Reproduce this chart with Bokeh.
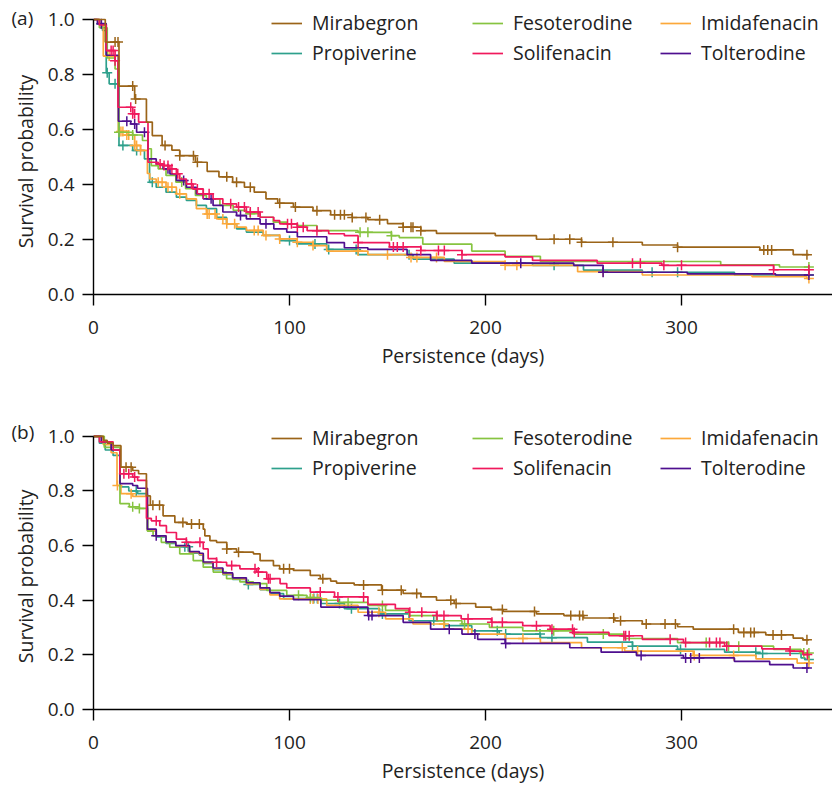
import math
import numpy as np
from bokeh.plotting import figure
from bokeh.models import Range1d, FixedTicker, Legend, LegendItem, Label, NumeralTickFormatter
from bokeh.layouts import column, row
from bokeh.embed import file_html
from bokeh.resources import INLINE

FONT = "Open Sans"
TEXT = "#222222"

DRUGS = ["Mirabegron", "Fesoterodine", "Imidafenacin", "Propiverine", "Solifenacin", "Tolterodine"]
COLORS = {
    "Mirabegron": "#9B6418",
    "Fesoterodine": "#86C440",
    "Imidafenacin": "#FCA83A",
    "Propiverine": "#2EA08C",
    "Solifenacin": "#F0195C",
    "Tolterodine": "#4E0F8F",
}
END_DAY = 365
X_TICKS = [0, 100, 200, 300]
Y_TICKS = [0.0, 0.2, 0.4, 0.6, 0.8, 1.0]
X_TITLE = "Persistence (days)"
Y_TITLE = "Survival probability"

# ---------------- Panel (a): step times (days) and survival after each step
MIRA_A_T = [0, 6, 13, 21, 27, 30, 35, 40, 44, 52, 58, 64, 71, 77, 82, 88, 94, 102, 112, 121,
            132, 140, 150, 158, 167, 175, 205, 226, 249, 280, 298, 340, 357]
MIRA_A_S = [1.0, 0.918, 0.758, 0.711, 0.627, 0.578, 0.542, 0.525, 0.505, 0.481, 0.448, 0.428, 0.408, 0.39, 0.372, 0.348, 0.332, 0.318, 0.305, 0.29,
            0.28, 0.272, 0.258, 0.245, 0.232, 0.222, 0.214, 0.201, 0.19, 0.18, 0.172, 0.162, 0.145]
MIRA_A_C = [11, 12.5, 20, 21.5, 36.5, 44, 51, 53, 68, 73, 80, 95, 103, 114, 123, 126, 128, 132, 139, 146,
            158, 162, 163, 167, 235, 243, 249, 265, 298, 342, 344, 346, 364]

FESO_A_T = [0, 3, 7, 11, 12.8, 20, 25, 27.8, 29.5, 33, 37, 42, 47, 52, 57.6, 64.5, 71.3, 78, 85, 91.7,
            98.6, 104, 114, 135, 152, 156, 168, 193, 210, 228, 320, 350]
FESO_A_S = [1.0, 0.97, 0.86, 0.82, 0.59, 0.58, 0.56, 0.53, 0.469, 0.457, 0.433, 0.409, 0.385, 0.36, 0.348, 0.324, 0.306, 0.294, 0.281, 0.263,
            0.257, 0.251, 0.232, 0.226, 0.214, 0.207, 0.183, 0.158, 0.139, 0.12, 0.108, 0.1]
FESO_A_C = [13, 20, 45, 80, 136, 140, 152, 365]

IMID_A_T = [0, 3, 5, 12.7, 17, 21, 24, 27.5, 28.7, 32, 37, 42.3, 47.4, 52.5, 57.6, 62.8, 67.9, 73, 78, 86.6,
            95, 103.7, 112, 119, 140, 161, 179, 210, 247, 280, 336, 364]
IMID_A_S = [1.0, 0.98, 0.867, 0.593, 0.58, 0.542, 0.524, 0.44, 0.42, 0.408, 0.39, 0.366, 0.348, 0.312, 0.293, 0.275, 0.257, 0.245, 0.233, 0.215,
            0.202, 0.19, 0.178, 0.158, 0.145, 0.135, 0.12, 0.106, 0.083, 0.071, 0.065, 0.058]
IMID_A_C = [8, 14, 15, 17, 18, 21, 22, 24, 33, 35, 38, 40, 44, 58, 59, 62, 66, 68, 72, 82,
            84, 88, 95, 104, 112, 135, 150, 162, 165, 175, 210, 216, 260, 365]

PROP_A_T = [0, 3, 4.6, 6.5, 8, 13, 20, 26, 28.6, 32, 37, 42.3, 47.4, 52.5, 57.6, 62.8, 67.9, 73, 78, 86.6,
            95, 103.7, 119, 135, 163, 184, 224, 250, 280, 327]
PROP_A_S = [1.0, 0.984, 0.96, 0.806, 0.766, 0.542, 0.524, 0.493, 0.408, 0.39, 0.372, 0.354, 0.342, 0.324, 0.312, 0.281, 0.257, 0.239, 0.227, 0.215,
            0.196, 0.184, 0.164, 0.145, 0.129, 0.114, 0.106, 0.089, 0.081, 0.071]
PROP_A_C = [4, 7, 11, 15, 22, 30, 100, 113, 120, 134, 161, 235, 285, 298, 365]

SOLI_A_T = [0, 3, 6.5, 11, 12.5, 20, 23, 27.8, 33, 35.5, 39, 42.3, 44, 47.4, 50.8, 56, 61, 66, 73, 78,
            85, 92, 95, 104, 109, 120, 128, 135, 151, 167, 188, 210, 224, 257, 290, 347]
SOLI_A_S = [1.0, 0.98, 0.887, 0.85, 0.681, 0.657, 0.627, 0.481, 0.475, 0.469, 0.457, 0.439, 0.42, 0.402, 0.384, 0.366, 0.348, 0.33, 0.318, 0.3,
            0.281, 0.269, 0.257, 0.245, 0.232, 0.221, 0.214, 0.189, 0.173, 0.16, 0.145, 0.137, 0.124, 0.114, 0.106, 0.09]
SOLI_A_C = [9, 10, 11, 19, 20, 21, 34, 36, 38, 40, 43, 50, 53, 56, 59, 70, 74, 77, 80, 84,
            99, 101, 104, 107, 114, 135, 153, 155, 158, 167, 176, 179, 188, 275, 279, 291, 300, 347, 365]

TOLT_A_T = [0, 2, 6.5, 12.7, 19, 22, 27.8, 32, 35.5, 39, 42.3, 47.4, 52.5, 56, 61, 66, 73, 78, 85, 92,
            98.6, 104, 119, 128, 140, 160, 172, 193, 245, 260, 303, 348]
TOLT_A_S = [1.0, 0.985, 0.87, 0.63, 0.62, 0.59, 0.493, 0.475, 0.457, 0.439, 0.415, 0.39, 0.366, 0.348, 0.324, 0.3, 0.287, 0.275, 0.257, 0.239,
            0.227, 0.21, 0.189, 0.17, 0.164, 0.145, 0.124, 0.114, 0.106, 0.081, 0.075, 0.071]
TOLT_A_C = [4, 17, 21, 26, 38, 46, 60, 75, 88, 218, 260, 365]

# ---------------- Panel (b)
MIRA_B_T = [0, 5, 7, 10, 14, 20, 23, 27, 29, 35.5, 41.5, 47.4, 56, 56.8, 59.4, 62.8, 68, 73, 81.6, 85,
            91.8, 95, 102, 110.6, 115.7, 121, 124, 133, 147, 158, 167, 175, 184, 195, 203, 209, 226, 240, 250, 266,
            280, 298, 306, 329, 343, 357, 362]
MIRA_B_S = [1.0, 0.985, 0.975, 0.966, 0.887, 0.875, 0.863, 0.782, 0.748, 0.709, 0.685, 0.679, 0.66, 0.636, 0.618, 0.612, 0.588, 0.576, 0.57, 0.545,
            0.527, 0.515, 0.509, 0.491, 0.479, 0.47, 0.463, 0.456, 0.437, 0.425, 0.412, 0.4, 0.388, 0.375, 0.366, 0.359, 0.35, 0.344, 0.335, 0.325,
            0.313, 0.303, 0.294, 0.282, 0.273, 0.261, 0.255]
MIRA_B_C = [16.6, 19.2, 30.3, 33.7, 45.6, 50, 54, 68, 74, 97, 100, 117, 137.8, 147.4, 157, 164.9, 182.3, 185, 208.6, 225,
            243.5, 248, 249.7, 265.4, 268.9, 282, 291.6, 296.9, 326.6, 331.8, 335.3, 337.1, 346.7, 351, 364]

FESO_B_T = [0, 5.5, 13.5, 18.3, 23.4, 27.6, 30.4, 34.6, 38.9, 44, 50.9, 56, 61.1, 67.9, 74.7, 81.6, 88.4, 98.6, 108.9, 116,
            125, 140, 149, 161, 175, 188, 202, 219, 245, 271, 298, 324, 347, 361]
FESO_B_S = [1.0, 0.96, 0.754, 0.742, 0.736, 0.653, 0.636, 0.612, 0.594, 0.57, 0.545, 0.521, 0.503, 0.479, 0.467, 0.461, 0.436, 0.418, 0.41, 0.4,
            0.392, 0.381, 0.363, 0.344, 0.325, 0.313, 0.301, 0.288, 0.276, 0.26, 0.245, 0.232, 0.22, 0.207]
FESO_B_C = [20, 23.4, 104.6, 110.7, 129.9, 147.4, 189.3, 234.8, 260.1, 312.6, 324, 329.2, 362.4, 365]

IMID_B_T = [0, 5, 9, 12, 14, 20, 27.5, 32, 37, 42, 49, 54, 56, 61, 66, 71, 78, 85, 90, 95,
            119, 135, 149, 163, 179, 193, 210, 228, 249, 271, 306, 338, 359]
IMID_B_S = [1.0, 0.97, 0.94, 0.82, 0.79, 0.78, 0.655, 0.636, 0.612, 0.598, 0.575, 0.568, 0.538, 0.515, 0.496, 0.478, 0.46, 0.44, 0.42, 0.405,
            0.381, 0.356, 0.332, 0.313, 0.294, 0.276, 0.26, 0.245, 0.226, 0.214, 0.198, 0.185, 0.17]
IMID_B_C = [12.2, 19.2, 110.6, 112, 114.5, 145.6, 178.8, 191.1, 219.1, 269.8, 277.6, 306.5, 326.6, 365]

PROP_B_T = [0, 3, 6, 10, 13.5, 18, 22.5, 27.5, 32, 37, 42, 49, 54, 56, 61, 66, 71, 78, 85, 90,
            97, 116, 128, 146, 161, 179, 193, 207, 228, 252, 275, 298, 322, 338, 361, 363]
PROP_B_S = [1.0, 0.975, 0.95, 0.93, 0.815, 0.80, 0.79, 0.655, 0.632, 0.608, 0.596, 0.572, 0.566, 0.535, 0.512, 0.494, 0.476, 0.458, 0.439, 0.424,
            0.406, 0.388, 0.369, 0.35, 0.325, 0.307, 0.288, 0.276, 0.263, 0.247, 0.232, 0.22, 0.21, 0.205, 0.189, 0.183]
PROP_B_C = [21.8, 46.6, 48.3, 79, 112.4, 114.2, 125.5, 131.6, 147.4, 173.6, 206, 210.3, 227.8, 233.9, 275, 299.5, 337.9, 341.4, 365]

SOLI_B_T = [0, 3, 10, 13.5, 20, 22.5, 27, 29.5, 33.8, 37.2, 42.3, 47.4, 56, 58.5, 62.8, 67.9, 74.7, 83.3, 88.4, 95.2,
            98.6, 110.6, 123, 140, 154, 161, 175, 187.6, 203, 219, 233, 245, 263, 280, 301, 322, 341, 355, 362]
SOLI_B_S = [1.0, 0.98, 0.95, 0.863, 0.851, 0.839, 0.70, 0.691, 0.673, 0.648, 0.624, 0.612, 0.588, 0.552, 0.539, 0.527, 0.515, 0.503, 0.479, 0.461,
            0.445, 0.43, 0.412, 0.385, 0.369, 0.356, 0.344, 0.332, 0.319, 0.307, 0.294, 0.282, 0.27, 0.257, 0.245, 0.232, 0.222, 0.214, 0.201]
SOLI_B_C = [15.5, 18, 21, 32, 47.4, 54.3, 62.8, 70.5, 82.4, 84.1, 89.2, 90.1, 115.7, 124.7, 137.8, 161.4, 167.5, 175.3, 178.8, 191.1,
            203.3, 208.6, 226, 233.9, 244.4, 245.3, 270.6, 271.5, 273.3, 294.2, 302.1, 314.3, 317.8, 319.6, 323.1, 355.4, 364.2]

TOLT_B_T = [0, 4, 9, 13.5, 20, 22.5, 27.5, 32, 37, 42, 49, 54, 56, 61, 66, 71, 78, 85, 90, 95,
            102, 116, 140, 158, 172, 188, 196, 210, 243, 259, 277, 301, 327, 345, 357]
TOLT_B_S = [1.0, 0.98, 0.95, 0.827, 0.82, 0.81, 0.66, 0.636, 0.614, 0.6, 0.578, 0.572, 0.54, 0.518, 0.5, 0.482, 0.464, 0.445, 0.428, 0.415,
            0.402, 0.375, 0.344, 0.319, 0.294, 0.276, 0.257, 0.242, 0.226, 0.21, 0.198, 0.189, 0.176, 0.164, 0.152]
TOLT_B_C = [32, 140.4, 142.1, 181.5, 194.6, 210.3, 279.4, 302.1, 304.7, 309.1, 364]

PANEL_A = {
    "Mirabegron": (MIRA_A_T, MIRA_A_S, MIRA_A_C),
    "Fesoterodine": (FESO_A_T, FESO_A_S, FESO_A_C),
    "Imidafenacin": (IMID_A_T, IMID_A_S, IMID_A_C),
    "Propiverine": (PROP_A_T, PROP_A_S, PROP_A_C),
    "Solifenacin": (SOLI_A_T, SOLI_A_S, SOLI_A_C),
    "Tolterodine": (TOLT_A_T, TOLT_A_S, TOLT_A_C),
}
PANEL_B = {
    "Mirabegron": (MIRA_B_T, MIRA_B_S, MIRA_B_C),
    "Fesoterodine": (FESO_B_T, FESO_B_S, FESO_B_C),
    "Imidafenacin": (IMID_B_T, IMID_B_S, IMID_B_C),
    "Propiverine": (PROP_B_T, PROP_B_S, PROP_B_C),
    "Solifenacin": (SOLI_B_T, SOLI_B_S, SOLI_B_C),
    "Tolterodine": (TOLT_B_T, TOLT_B_S, TOLT_B_C),
}

DRAW_ORDER = ["Propiverine", "Imidafenacin", "Fesoterodine", "Tolterodine", "Solifenacin", "Mirabegron"]
LEGEND_COLS = [["Mirabegron", "Propiverine"], ["Fesoterodine", "Solifenacin"], ["Imidafenacin", "Tolterodine"]]
LEGEND_X = [178, 379, 567]

# layout (pixels)
SIDE_W = 40            # strip holding the panel tag and the rotated y title
FIG_W = 792            # plot figure width (SIDE_W + FIG_W = 832)
BORDER_LEFT = 53
FRAME_W = FIG_W - BORDER_LEFT
PX_PER_DAY = 1.96
PX_PER_UNIT = 275.0
X_END = FRAME_W / PX_PER_DAY


def surv_at(ts, ss, t):
    i = int(np.searchsorted(np.asarray(ts, dtype=float), t, side="right")) - 1
    return ss[max(i, 0)]


def make_side(tag, height, top, bottom, frame_h, tag_y, title_y):
    # its frame is aligned with the plot's frame by the row layout; y is in pixels above the frame bottom
    s = figure(width=SIDE_W, height=height, output_backend="svg", toolbar_location=None,
               x_range=Range1d(0, SIDE_W), y_range=Range1d(0, frame_h),
               x_axis_location=None, y_axis_location=None,
               min_border_left=0, min_border_right=0, min_border_top=top, min_border_bottom=bottom,
               background_fill_color="white", border_fill_color="white")
    s.outline_line_color = None
    s.grid.visible = False
    s.add_layout(Label(x=11, y=tag_y, text=tag, text_font=FONT,
                       text_font_size="19px", text_color=TEXT,
                       text_align="left", text_baseline="middle"))
    s.add_layout(Label(x=25, y=title_y, text=Y_TITLE, angle=math.pi / 2,
                       text_font=FONT, text_font_size="19.5px", text_color=TEXT,
                       text_align="center", text_baseline="middle"))
    return s


def make_panel(data, height, top, bottom, frame_h, legend_y):
    p = figure(width=FIG_W, height=height, output_backend="svg", toolbar_location=None,
               x_range=Range1d(0, X_END), y_range=Range1d(0, frame_h / PX_PER_UNIT),
               min_border_left=BORDER_LEFT, min_border_right=0, min_border_top=top, min_border_bottom=bottom,
               background_fill_color="white", border_fill_color="white")
    p.outline_line_color = None
    p.grid.visible = False
    p.xaxis.ticker = FixedTicker(ticks=X_TICKS)
    p.yaxis.ticker = FixedTicker(ticks=Y_TICKS)
    p.yaxis.formatter = NumeralTickFormatter(format="0.0")
    p.yaxis.bounds = (0, 1)
    for ax in (p.xaxis, p.yaxis):
        ax.axis_line_color = "black"
        ax.axis_line_width = 1.4
        ax.major_tick_line_color = "black"
        ax.major_tick_line_width = 1.4
        ax.major_tick_out = 11
        ax.major_tick_in = 0
        ax.minor_tick_line_color = None
        ax.major_label_text_font = FONT
        ax.major_label_text_font_size = "19px"
        ax.major_label_text_color = TEXT
        ax.axis_label_text_font = FONT
        ax.axis_label_text_font_size = "19.5px"
        ax.axis_label_text_font_style = "normal"
        ax.axis_label_text_color = TEXT
    p.xaxis.axis_label = X_TITLE
    p.xaxis.major_label_standoff = 15
    p.xaxis.axis_label_standoff = 5
    p.yaxis.major_label_standoff = 8

    renderers = {}
    for name in DRAW_ORDER:
        ts, ss, cs = data[name]
        assert len(ts) == len(ss), name
        xs = list(ts) + [END_DAY]
        ys = list(ss) + [ss[-1]]
        r = p.step(xs, ys, mode="after", line_color=COLORS[name], line_width=1.7)
        renderers[name] = r
        cy = [surv_at(ts, ss, c) for c in cs]
        p.scatter(cs, cy, marker="cross", size=10, line_color=COLORS[name], line_width=1.5)

    for col, lx in zip(LEGEND_COLS, LEGEND_X):
        items = [LegendItem(label=n, renderers=[renderers[n]]) for n in col]
        leg = Legend(items=items, location=(lx, legend_y), orientation="vertical",
                     padding=0, margin=0, spacing=3, glyph_width=31, glyph_height=24,
                     label_height=24, label_standoff=10,
                     label_text_font=FONT, label_text_font_size="19.5px", label_text_color=TEXT,
                     background_fill_alpha=0, border_line_alpha=0)
        p.add_layout(leg)
    return p


# panel (a): frame from page y 6 to 295; panel (b): frame from page y 415 to 712
H1, TOP1, BOT1, FH1 = 380, 5, 86, 289
H2, TOP2, BOT2, FH2 = 406, 34, 75, 297
side1 = make_side("(a)", H1, TOP1, BOT1, FH1, 277, 133)
side2 = make_side("(b)", H2, TOP2, BOT2, FH2, 279, 134)
p1 = make_panel(PANEL_A, H1, TOP1, BOT1, FH1, 228)
p2 = make_panel(PANEL_B, H2, TOP2, BOT2, FH2, 228)
layout = column(row(side1, p1), row(side2, p2))

open("out.html", "w").write(file_html(layout, INLINE))
